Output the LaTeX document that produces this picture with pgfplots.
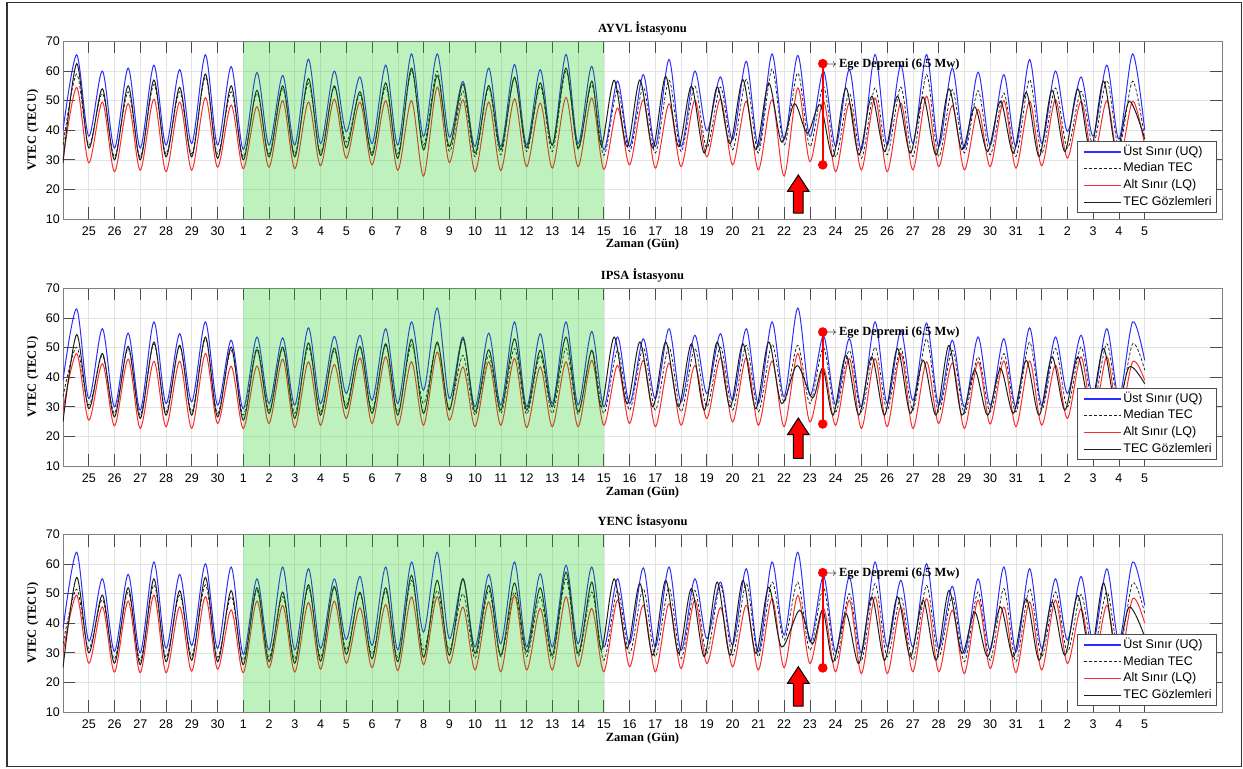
\documentclass[border=0pt]{standalone}
\usepackage{fontspec}
\setmainfont{Liberation Sans}
\newfontfamily\tnr{Liberation Serif}
\usepackage{pgfplots}
\usepackage{pgfplotstable}
\pgfplotsset{compat=1.18}
\newcommand\tnrb{\fontsize{12.5bp}{15bp}\selectfont\tnr\bfseries}
\newcommand\sz{\fontsize{12.5bp}{15bp}\selectfont}
\definecolor{uqc}{RGB}{45,45,255}
\definecolor{lqc}{RGB}{250,45,45}
\definecolor{obsc}{RGB}{30,30,30}
\definecolor{grn}{RGB}{0,200,0}

\pgfplotstableread{
x xo uq med lq obs
0 0 40 35 30 29
0.53 0.53 65.5 59 54.5 62.5
1 1 38 35 29 34
1.53 1.53 60 52.5 49.5 54
2 2 34 31 26 30
2.53 2.53 61 53 49 55
3 3 34 31 26.5 30
3.53 3.53 62 55.5 50.5 57
4 4 35 32 26 31
4.53 4.53 60.5 53 49.5 54.5
5 5 35.5 32 26.5 31
5.53 5.53 65.5 58 51 59
6 6 35 32 27.5 30.5
6.53 6.53 61.5 53 48.5 55
7 7 33.5 31 27 30
7.53 7.53 59.5 52.5 48 53.5
8 8 35 32 27.5 31
8.53 8.53 58.5 54 50 55
9 9 35 32 27 31
9.53 9.53 64 56 49.5 57.5
10 10 35.5 32.5 28 31.5
10.53 10.53 60 54.5 50.5 55
11 11 39.5 36 30.5 34
11.53 11.53 58 52 49.5 53
12 12 35.5 32.5 28.3 31.5
12.53 12.53 62 54.5 50 56
13 13 35 32 26.5 30.5
13.53 13.53 65.8 60 50 61
14 14 37.9 35 24.5 33.4
14.53 14.53 65.8 60 54.6 58.5
15 15 37.7 32.8 29.1 34.5
15.53 15.53 56.5 53.2 50.3 55.6
16 16 34.5 31 26 32.3
16.53 16.53 61 54.3 49.5 55.1
17 17 34.5 31.7 26.4 33.4
17.53 17.53 62.2 58 50.6 57.7
18 18 35 32.8 27.7 34
18.53 18.53 60.5 54.9 49.2 56
19 19 34.9 32.8 27.2 35
19.53 19.53 65.6 60 51.1 61
20 20 35.4 33.6 27.7 34
20.53 20.53 61.6 55.4 50.9 56.6
21 20.9 33.4 31.5 26.8 35
21.53 21.4 56.6 53.7 47.5 56.9
22 21.9 34.5 32.8 28.3 34.5
22.53 22.4 58.8 54.6 50.3 57
23 22.9 34.5 32.3 27.2 34
23.53 23.4 63.9 56.9 48.9 58.2
24 23.9 34.5 32.8 27.7 34.5
24.53 24.4 60 54.9 50.1 54.9
25 24.9 39.8 34 31 32.3
25.53 25.4 58 54.6 50.6 54.6
26 25.9 36.8 33.4 28.3 35.4
26.53 26.4 63.3 57.1 49.8 57.1
27 26.9 34.5 32.3 26.6 33.4
27.53 27.4 65.8 60.7 50.3 56
28 27.9 37 35 24.5 36
28.53 28.4 65.3 59.4 54.3 49
29 28.9 37.9 34.5 29.4 39
29.53 29.4 60 54.8 49.8 48.6
30 29.9 34.5 31 26 31.1
30.53 30.4 60.5 52.6 49.2 54.3
31 30.9 33.4 30.5 26.6 31.7
31.53 31.4 65.6 54.3 50.9 51.5
32 31.9 35 31.7 26 32.8
32.53 32.4 62 54.6 49.2 51.5
33 32.9 35.6 31.1 26.6 32.3
33.53 33.4 65.6 58.8 51.5 51.2
34 33.9 34.5 31.1 27.7 31.7
34.53 34.4 61 53.7 48.3 54
35 34.9 34 32.3 26.6 33.4
35.53 35.4 59.6 53.4 47 47.9
36 35.9 35 31.7 27.7 32.8
36.53 36.4 58.8 52.6 50 49.8
37 36.9 34.5 31.1 27.2 32.3
37.53 37.4 63.9 57.1 49.8 52.8
38 37.9 35.6 32.3 28 31.1
38.53 38.4 60 54.3 50.3 53.5
39 38.9 39.6 34 30.6 32.8
39.53 39.4 58 53.2 49.8 54
40 39.9 38 35 30 33
40.53 40.4 62 56.9 50 56.6
41 40.9 37 34 29 33
41.53 41.4 65.8 56.6 49.8 49.8
42 42 40 37 35 37
}\tA

\pgfplotstableread{
x xo uq med lq obs
0 0 39 33.4 28.9 25
0.53 0.53 63.1 50.2 48 54.4
1 1 32.8 30.6 25.5 29.4
1.53 1.53 56.4 47.4 44.6 48
2 2 30 27.8 23.6 26.6
2.53 2.53 54.9 49.7 46.1 50.4
3 3 28.9 27.2 22.7 26.1
3.53 3.53 58.7 51.3 45.4 51.9
4 4 31.1 28.3 23.3 27.2
4.53 4.53 54.7 50.4 45.4 50.8
5 5 31.7 28.3 22.7 27.2
5.53 5.53 58.7 53 48 53.6
6 6 30.6 27.8 24.4 26.6
6.53 6.53 52.5 49.1 43.7 50.2
7 7 29.4 27.2 22.7 25.5
7.53 7.53 53.6 50.2 43.8 49.3
8 8 31.1 28.9 24.4 27.8
8.53 8.53 53.3 49.7 46.1 50.2
9 9 30.6 27.8 23 26.1
9.53 9.53 56.7 50.2 45.2 51.6
10 10 31.1 28.3 23.8 27.2
10.53 10.53 53.8 49.1 44.3 49.9
11 11 34.5 30.6 26.1 29.4
11.53 11.53 54.2 50.2 46.5 50.4
12 12 32.2 29 24.4 27.8
12.53 12.53 56.4 50.8 46.9 51.3
13 13 31.1 28.3 23.8 27.2
13.53 13.53 58.7 51 45.2 52.8
14 14 35.6 31.1 23.8 27.8
14.53 14.53 63.4 51.3 48.5 51.9
15 15 32.8 29.4 25.5 28.9
15.53 15.53 53.6 47.4 43.5 53
16 16 30 27.2 23.3 28.3
16.53 16.53 54.9 47.4 45.2 49.3
17 17 30.6 27.8 23.8 28.9
17.53 17.53 58.7 49.7 46.3 53
18 18 30 27.5 23 28.9
18.53 18.53 54.7 47.4 43.5 49.1
19 19 31.1 27.8 23.3 30
19.53 19.53 58.7 49.7 45.2 53.6
20 20 30.6 27.5 23.3 28.3
20.53 20.53 55.5 49.1 45.7 49.1
21 20.9 30 27.8 23.8 30
21.53 21.4 53.6 49.1 44 53.6
22 21.9 31.1 28.9 24.4 31
22.53 22.4 53 50 45.7 51.9
23 22.9 32.8 28.9 23.3 30
23.53 23.4 56.4 50.2 44.8 51.9
24 23.9 31.7 28.3 23.8 30
24.53 24.4 54.2 49.7 44 51.3
25 24.9 34.5 30 26.1 28.9
25.53 25.4 54.7 50.2 46.6 51.9
26 25.9 32.2 28.9 24.9 30
26.53 26.4 56.4 50.8 46.6 51.3
27 26.9 31.1 28.3 23.8 29.4
27.53 27.4 58.7 51.1 45.5 51.9
28 27.9 33.4 31.7 23.3 31.1
28.53 28.5 63.4 50.8 48 44
29 29.1 33.9 31.1 24.9 33
29.53 29.5 54 50 43 43
30 29.9 30.6 28.3 23.8 27.2
30.53 30.4 53 49.1 46.3 47.4
31 30.9 30 28.3 22.7 27.2
31.53 31.4 58.7 50.2 46.3 46.9
32 31.9 31.1 28.9 23.3 27.2
32.53 32.4 55.8 49.7 48 49.7
33 32.9 32.2 28.9 22.7 27.8
33.53 33.4 58.3 53 45.2 45.7
34 33.9 30.6 28.3 24.4 27.2
34.53 34.4 52.5 49.1 44.8 50.8
35 34.9 30 27.8 22.7 27.2
35.53 35.4 53.6 46.9 45.2 42.4
36 35.9 30.6 28.3 24.2 27.2
36.53 36.4 53 48 45.5 42.9
37 36.9 30 28.3 23.3 27.8
37.53 37.4 56.7 51.9 45.5 45.7
38 37.9 30.6 28.9 23.8 27.2
38.53 38.4 53.6 49.7 44 46.9
39 38.9 34.5 30 26.1 28.9
39.53 39.4 54.2 50.2 46.9 46.9
40 39.9 33.4 30.6 25.5 30
40.53 40.4 56.4 51.3 46.9 49.7
41 40.9 33 30.5 25.5 29
41.53 41.4 58.7 51.3 45.2 43.5
42 42 45.7 42.4 39 37.8
}\tB

\pgfplotstableread{
x xo uq med lq obs
0 0 38 33 30 25
0.53 0.53 64 51.5 49.5 55.5
1 1 34 31.5 26.5 30
1.53 1.53 55 48 45.5 49.5
2 2 30.5 28 23.5 26.5
2.53 2.53 56.5 50.5 47.5 52
3 3 30 27.5 23.3 26
3.53 3.53 60.7 53 49.5 55
4 4 31.5 28.5 23.3 27
4.53 4.53 56.5 49.5 45.5 51
5 5 32.5 29 23.8 27.5
5.53 5.53 60.1 53 49 55.5
6 6 31.5 28.5 24.5 27
6.53 6.53 59 49 44.5 51
7 7 29.5 27.5 23.3 26
7.53 7.53 55 51 47.5 52
8 8 31 28.5 25 27
8.53 8.53 59 49 46 50.5
9 9 31 28 23.5 26.5
9.53 9.53 58.4 52 47 53
10 10 31.5 28.5 24.5 27.2
10.53 10.53 55 52 47.5 52.5
11 11 34.5 31 26.5 29.5
11.53 11.53 55.8 50 45.2 50.5
12 12 32.5 29.5 25 28
12.53 12.53 59 51 46.3 52
13 13 31 28.5 24 27
13.53 13.53 60.7 54.5 48.9 56.2
14 14 37 31 26 28.5
14.53 14.53 64 51.1 48.9 54.5
15 15 34.8 30.9 26.4 29.2
15.53 15.53 55 50 45.5 55
16 16 32 28.1 24.2 29.8
16.53 16.53 56.5 51.1 47.2 52.8
17 17 33.1 28.7 23.6 29.2
17.53 17.53 60.7 50.6 49.4 53.6
18 18 32 28.7 24.2 30.3
18.53 18.53 56.7 48.9 45 52
19 19 32 28.1 24.2 29.2
19.53 19.53 59.6 55 48.9 57.3
20 20 33.1 28.9 25.3 29.8
20.53 20.53 59 50.6 45 53.9
21 20.9 32 27.5 23.6 31
21.53 21.4 55 51.1 47.8 55
22 21.9 33.1 29.8 25.3 31.5
22.53 22.4 58.7 51.7 46.1 53.4
23 22.9 32 28.7 23.6 29.2
23.53 23.4 59 52 46.6 54.5
24 23.9 30.9 28.1 24.7 29.8
24.53 24.4 55 51.1 47.8 51.7
25 24.9 34.8 29.8 26.4 28.7
25.53 25.4 53.9 52.8 45.3 53.9
26 25.9 32.6 29.2 25.3 29.2
26.53 26.4 58.4 53.4 46.1 54.5
27 26.9 30.3 28.7 24.2 29.8
27.53 27.4 60.7 53.9 48.3 52.2
28 27.9 36 34.3 25 32
28.53 28.6 64 53.9 49.4 44.4
29 29.1 33.7 30.9 26.4 33
29.53 29.5 56 52 45 44.4
30 29.9 30.3 27.5 23.6 27
30.53 30.4 55.6 50 47.8 43.3
31 30.9 29.8 27.5 23 26.4
31.53 31.4 60.7 53.4 48.9 48.9
32 31.9 32 28.7 23 27.5
32.53 32.4 54.5 48.9 45.5 48.9
33 32.9 32 27.5 23.6 28.7
33.53 33.4 60.1 52.8 48.3 47.8
34 33.9 31.5 28.7 23.6 27.5
34.53 34.4 52.5 48.9 44.4 51.1
35 34.9 29.8 27 23 29.8
35.53 35.4 55 50.6 47.8 43.8
36 35.9 30.9 27.5 24.7 28.7
36.53 36.4 59 51.7 45.5 45.5
37 36.9 30.3 27 23.3 28.7
37.53 37.4 58.4 51.7 47.2 48.3
38 37.9 31.5 28.7 24.2 27.5
38.53 38.4 55 50.6 47.8 47.2
39 38.9 34.3 30.3 26.4 29.2
39.53 39.4 55.8 49.7 44.9 49.4
40 39.9 33.7 30.3 25.5 29.5
40.53 40.4 58.4 50.6 46.1 53.6
41 40.9 34 30.5 26 29.5
41.53 41.4 60.7 53.6 48.3 45.5
42 42 46 43.3 40 35.4
}\tC

\pgfplotsset{legend image code/.code={\path (0bp,0bp); \draw[#1, line width=1.2bp] (3bp,0bp) -- (40bp,0bp);}}
\pgfplotsset{
  panel/.style={
    width=1159bp, height=177.5bp, scale only axis,
    xmin=0, xmax=45, ymin=10, ymax=70,
    xtick={1,...,42},
    xticklabels={25,26,27,28,29,30,1,2,3,4,5,6,7,8,9,10,11,12,13,14,15,16,17,18,19,20,21,22,23,24,25,26,27,28,29,30,31,1,2,3,4,5},
    ytick={10,20,...,70},
    tick align=inside,
    major tick length=12bp,
    grid=major,
    major grid style={draw=black!11, line width=0.6bp},
    axis line style={draw=black!50, line width=0.8bp},
    major tick style={draw=black!70, line width=0.8bp},
    tick label style={font=\sz},
    /pgf/number format/assume math mode=true,
    xticklabel style={anchor=base, yshift=-17bp},
    yticklabel style={anchor=east, inner sep=0pt, xshift=-3bp},
    xlabel={Zaman (Gün)}, ylabel={VTEC (TECU)},
    label style={font=\tnrb},
    xlabel style={at={(axis description cs:0.5,-0.1634)}, anchor=base},
    ylabel style={at={(axis description cs:-0.0259,0.5)}, anchor=center},
    title style={at={(axis description cs:0.5,1.0169)}, anchor=base, font=\tnrb},
    legend cell align=left,
    legend style={at={(axis description cs:1,0)}, anchor=south east, xshift=-5bp, yshift=6bp,
      draw=black!70, line width=0.8bp, fill=white, font=\sz,
      inner xsep=3bp, inner ysep=3.5bp, row sep=3.3bp,
      nodes={inner xsep=2bp, inner ysep=1bp, text height=9bp, text depth=2.5bp},
      /tikz/every even column/.append style={column sep=1bp}},
  },
}

\begin{document}
\begin{tikzpicture}
\useasboundingbox (0,0) rectangle (1243bp,769bp);
\draw[black!80, line width=1.5bp] (7bp,2.3bp) rectangle (1241.5bp,766.3bp);

% ---------- AYVL ----------
\begin{axis}[panel, at={(63bp,550bp)}, anchor=south west, title={AYVL İstasyonu}]
\addplot[smooth, color=uqc, line width=1bp] table[x=x,y=uq]{\tA};
\addplot[smooth, color=obsc, line width=0.75bp, dash pattern=on 3bp off 2bp] table[x=x,y=med]{\tA};
\addplot[smooth, color=lqc, line width=1bp] table[x=x,y=lq]{\tA};
\addplot[smooth, color=obsc, line width=1bp] table[x=xo,y=obs]{\tA};
\addplot[forget plot, draw=none, fill=grn, fill opacity=0.25] coordinates {(7,10) (21,10) (21,70) (7,70) (7,10)};
\addplot[forget plot, red, line width=2.4bp, mark=*, mark size=3.5bp, mark options={fill=red, draw=red, solid}] coordinates {(29.5,28.3) (29.5,62.5)};
\addplot[forget plot, fill=red, draw=black, line width=1bp] coordinates {(28.36,12) (28.74,12) (28.74,19.3) (28.97,19.3) (28.55,24.9) (28.13,19.3) (28.36,19.3) (28.36,12)};
\node[anchor=west, inner sep=0pt, xshift=2bp, font=\tnrb] at (axis cs:29.5,62.3) {$\rightarrow$\,Ege Depremi (6.5 Mw)};
\legend{Üst Sınır (UQ), Median TEC, Alt Sınır (LQ), TEC Gözlemleri}
\end{axis}

% ---------- IPSA ----------
\begin{axis}[panel, at={(63bp,303bp)}, anchor=south west, title={IPSA İstasyonu}]
\addplot[smooth, color=uqc, line width=1bp] table[x=x,y=uq]{\tB};
\addplot[smooth, color=obsc, line width=0.75bp, dash pattern=on 3bp off 2bp] table[x=x,y=med]{\tB};
\addplot[smooth, color=lqc, line width=1bp] table[x=x,y=lq]{\tB};
\addplot[smooth, color=obsc, line width=1bp] table[x=xo,y=obs]{\tB};
\addplot[forget plot, draw=none, fill=grn, fill opacity=0.25] coordinates {(7,10) (21,10) (21,70) (7,70) (7,10)};
\addplot[forget plot, red, line width=2.4bp, mark=*, mark size=3.5bp, mark options={fill=red, draw=red, solid}] coordinates {(29.5,24.2) (29.5,55.3)};
\addplot[forget plot, fill=red, draw=black, line width=1bp] coordinates {(28.36,12.6) (28.74,12.6) (28.74,20.6) (28.97,20.6) (28.55,26.2) (28.13,20.6) (28.36,20.6) (28.36,12.6)};
\node[anchor=west, inner sep=0pt, xshift=2bp, font=\tnrb] at (axis cs:29.5,55.1) {$\rightarrow$\,Ege Depremi (6.5 Mw)};
\legend{Üst Sınır (UQ), Median TEC, Alt Sınır (LQ), TEC Gözlemleri}
\end{axis}

% ---------- YENC ----------
\begin{axis}[panel, at={(63bp,57bp)}, anchor=south west, title={YENC İstasyonu}]
\addplot[smooth, color=uqc, line width=1bp] table[x=x,y=uq]{\tC};
\addplot[smooth, color=obsc, line width=0.75bp, dash pattern=on 3bp off 2bp] table[x=x,y=med]{\tC};
\addplot[smooth, color=lqc, line width=1bp] table[x=x,y=lq]{\tC};
\addplot[smooth, color=obsc, line width=1bp] table[x=xo,y=obs]{\tC};
\addplot[forget plot, draw=none, fill=grn, fill opacity=0.25] coordinates {(7,10) (21,10) (21,70) (7,70) (7,10)};
\addplot[forget plot, red, line width=2.4bp, mark=*, mark size=3.5bp, mark options={fill=red, draw=red, solid}] coordinates {(29.5,24.9) (29.5,57.1)};
\addplot[forget plot, fill=red, draw=black, line width=1bp] coordinates {(28.36,12) (28.74,12) (28.74,19.7) (28.97,19.7) (28.55,25.3) (28.13,19.7) (28.36,19.7) (28.36,12)};
\node[anchor=west, inner sep=0pt, xshift=2bp, font=\tnrb] at (axis cs:29.5,56.9) {$\rightarrow$\,Ege Depremi (6.5 Mw)};
\legend{Üst Sınır (UQ), Median TEC, Alt Sınır (LQ), TEC Gözlemleri}
\end{axis}
\end{tikzpicture}
\end{document}
